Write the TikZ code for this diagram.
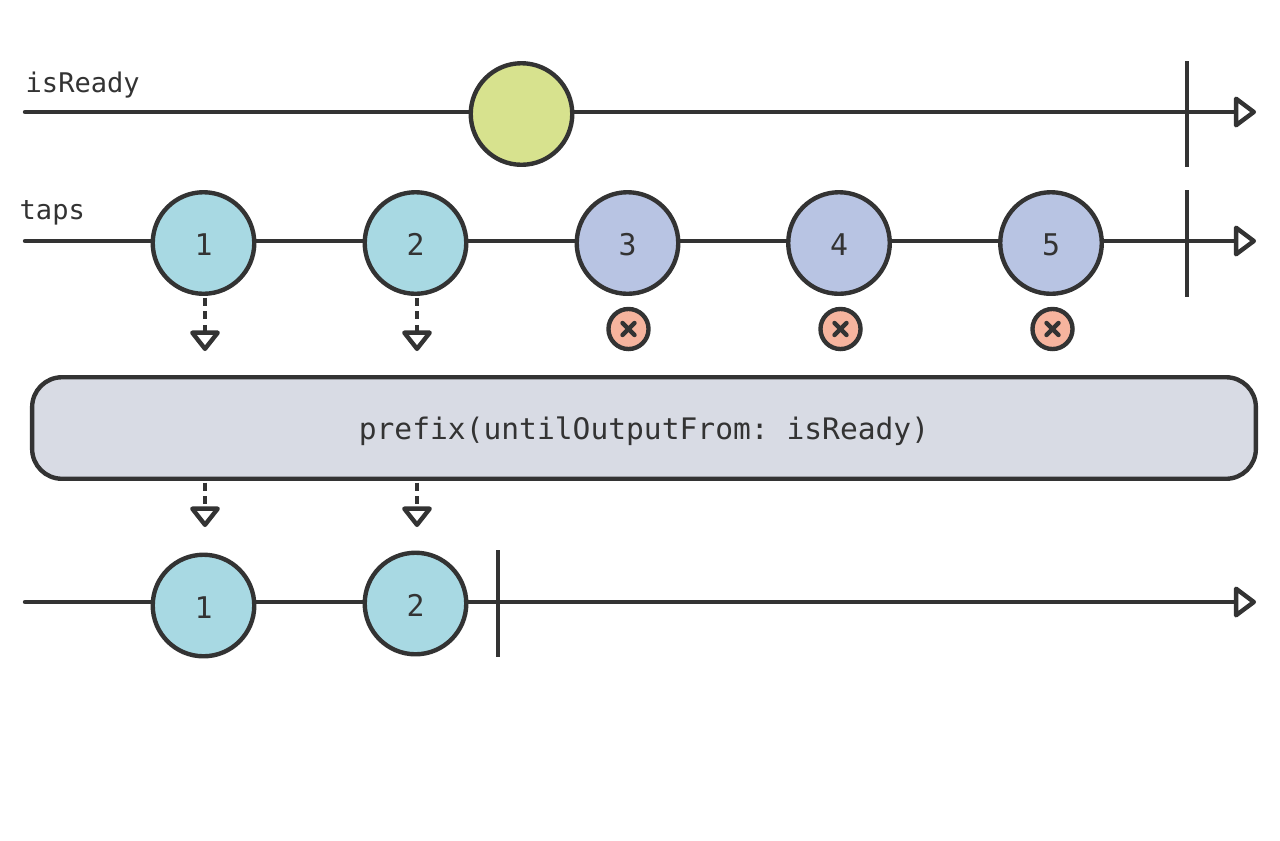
\documentclass[tikz,border=0pt]{standalone}
\usepackage{fontspec}
\setmonofont{DejaVu Sans Mono}
\usetikzlibrary{arrows.meta, positioning, backgrounds}
\definecolor{cdark}{HTML}{333333}
\definecolor{cteal}{HTML}{A8D9E3}
\definecolor{cblue}{HTML}{B8C4E3}
\definecolor{cgreen}{HTML}{D7E28E}
\definecolor{csalmon}{HTML}{F6B49E}
\definecolor{cgrey}{HTML}{D8DBE4}
\tikzset{
  every picture/.style={font=\ttfamily, line width=2.5pt},
  marble/.style={circle, draw=cdark, fill=#1, minimum size=57.8pt, inner sep=0pt, text=cdark, text depth=0pt, text height=14.4pt, font=\ttfamily\fontsize{17}{17}\selectfont},
  marble/.default=cteal,
  dropped/.style={circle, draw=cdark, fill=csalmon, minimum size=22.8pt, inner sep=0pt},
  cross/.style={draw=cdark, line width=2.5pt, line cap=round},
  operator/.style={draw=cdark, fill=cgrey, rounded corners=17pt, minimum width=696.5pt, minimum height=57.8pt, inner sep=0pt, text=cdark, text depth=0pt, text height=12.6pt, font=\ttfamily\fontsize{16.85}{16.85}\selectfont},
  label/.style={text=cdark, inner sep=0pt, font=\ttfamily\fontsize{15.4}{15.4}\selectfont},
  timeline/.style={draw=cdark, line width=2.5pt, line cap=round, -{Triangle[open, length=13.5pt, width=19.5pt, round, fill=white]}},
  tick/.style={draw=cdark},
  flow/.style={draw=cdark, dash pattern=on 4.5pt off 3.2pt, shorten <=1pt, -{Triangle[open, length=12.5pt, width=19pt, round, fill=white]}},
}
\begin{document}
\begin{tikzpicture}[x=0.02cm, y=-0.02cm]
  \useasboundingbox (0,0) rectangle (1280,840);
  % time lines, start and end points
  \coordinate (astart) at (25,112);   \coordinate (aend) at (1256,112);
  \coordinate (bstart) at (25,241);   \coordinate (bend) at (1256,241);
  \coordinate (cstart) at (25,602);   \coordinate (cend) at (1256,602);
  % top row
  \node[marble=cgreen] (ready) at (521.5,114) {};
  \node[label, anchor=west] (lready) at (23.5,85) {isReady};
  % taps row
  \node[label, anchor=west] (ltaps) at (17.5,212.5) {taps};
  \node[marble] (t1) at (203.5,243) {1};
  \node[marble] (t2) at (415.5,243) {2};
  \node[marble=cblue] (t3) at (627.5,243) {3};
  \node[marble=cblue] (t4) at (839,243) {4};
  \node[marble=cblue] (t5) at (1051,243) {5};
  % ignored taps
  \foreach \n/\x in {3/628.5, 4/840.5, 5/1052.5} {
    \node[dropped] (x\n) at (\x,329) {};
    \draw[cross] ([shift={(-6,-6)}]x\n.center) -- ([shift={(6,6)}]x\n.center);
    \draw[cross] ([shift={(-6,6)}]x\n.center) -- ([shift={(6,-6)}]x\n.center);
  }
  \node[operator] (prefix) at (644,428) {prefix(untilOutputFrom: isReady)};
  % output row
  \node[marble] (o1) at (203.5,605.5) {1};
  \node[marble] (o2) at (415.5,603.5) {2};
  % ticks
  \coordinate (atop) at (1187,61);  \coordinate (abot) at (1187,167);
  \coordinate (btop) at (1187,190); \coordinate (bbot) at (1187,297);
  \coordinate (ctop) at (498,550);  \coordinate (cbot) at (498,657);
  \draw[tick] (atop) -- (abot);
  \draw[tick] (btop) -- (bbot);
  \draw[tick] (ctop) -- (cbot);
  % dashed arrows, in and out of the operator
  \coordinate (in1) at (205,351);  \coordinate (in2) at (417,351);
  \coordinate (out1) at (205,527); \coordinate (out2) at (417,527);
  \draw[flow] (t1.south -| in1) -- (in1);
  \draw[flow] (t2.south -| in2) -- (in2);
  \draw[flow] (prefix.south -| out1) -- (out1);
  \draw[flow] (prefix.south -| out2) -- (out2);
  \begin{scope}[on background layer]
    \draw[timeline] (astart) -- (aend);
    \draw[timeline] (bstart) -- (bend);
    \draw[timeline] (cstart) -- (cend);
  \end{scope}
\end{tikzpicture}
\end{document}
